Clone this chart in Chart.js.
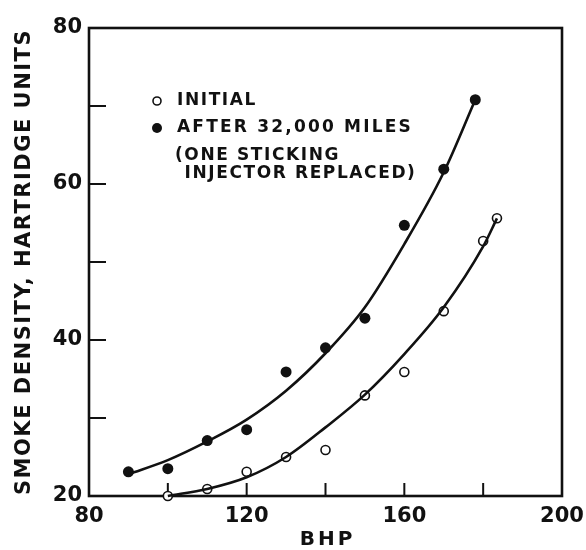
<!DOCTYPE html>
<html><head><meta charset="utf-8">
<script src="https://cdn.jsdelivr.net/npm/chart.js@4.4.1/dist/chart.umd.min.js"></script>
<style>html,body{margin:0;padding:0;background:#fff;} #wrap{width:586px;height:550px;position:relative;} canvas{display:block;}</style>
</head><body><div id="wrap"><canvas id="c" width="586" height="550" style="width:586px;height:550px"></canvas></div>
<script>
// Measured points
const afterBhp   = [90, 100, 110, 120, 130, 140, 150, 160, 170, 178];
const afterSmoke = [23.1, 23.5, 27.1, 28.5, 35.9, 39.0, 42.8, 54.7, 61.9, 70.8];
const initialBhp   = [100, 110, 120, 130, 140, 150, 160, 170, 180, 183.5];
const initialSmoke = [20.0, 20.9, 23.1, 25.0, 25.9, 32.9, 35.9, 43.7, 52.7, 55.6];
// Faired curves
const afterCurveBhp   = [90, 100, 110, 120, 130, 140, 150, 160, 170, 178];
const afterCurveSmoke = [22.8, 24.6, 27.0, 29.8, 33.5, 38.3, 44.2, 52.3, 61.5, 70.8];
const initialCurveBhp   = [100, 110, 120, 130, 140, 150, 160, 170, 180, 183.5];
const initialCurveSmoke = [20.0, 20.9, 22.4, 25.0, 28.8, 33.0, 38.2, 44.2, 52.0, 55.6];
// Axis labels
const xTickLabels = [80, 120, 160, 200];
const yTickLabels = [20, 40, 60, 80];
const xTitle = 'BHP';
const yTitle = 'SMOKE DENSITY, HARTRIDGE UNITS';
const legendInitial = 'INITIAL';
const legendAfter = 'AFTER 32,000 MILES';
const legendNote = ['(ONE STICKING', ' INJECTOR REPLACED)'];

const INK = '#111';
const FONT = '"DejaVu Sans", sans-serif';
const pts = (xs, ys) => xs.map((x, i) => ({x, y: ys[i]}));

const framePlugin = {
  id: 'frame',
  beforeDatasetsDraw(chart) {
    const {ctx, chartArea: a, scales: {x, y}} = chart;
    ctx.save();
    ctx.strokeStyle = INK;
    ctx.lineWidth = 2.6;
    ctx.strokeRect(a.left, a.top, a.right - a.left, a.bottom - a.top);
    ctx.lineWidth = 2;
    ctx.beginPath();
    x.ticks.forEach(t => {
      if (t.value <= x.min || t.value >= x.max) return;
      const px = x.getPixelForValue(t.value);
      ctx.moveTo(px, a.bottom); ctx.lineTo(px, a.bottom - 13);
    });
    y.ticks.forEach(t => {
      if (t.value <= y.min || t.value >= y.max) return;
      const py = y.getPixelForValue(t.value);
      ctx.moveTo(a.left, py); ctx.lineTo(a.left + 17, py);
    });
    ctx.stroke();
    ctx.restore();
  },
  afterDraw(chart) {
    const {ctx, chartArea: a} = chart;
    ctx.save();
    ctx.fillStyle = INK;
    ctx.strokeStyle = INK;
    ctx.textBaseline = 'middle';
    // legend
    ctx.font = 'bold 17px ' + FONT;
    ctx.letterSpacing = '1.6px';
    ctx.lineWidth = 1.6;
    ctx.beginPath(); ctx.arc(157, 101, 4, 0, Math.PI * 2); ctx.stroke();
    ctx.fillText(legendInitial, 177, 101);
    ctx.beginPath(); ctx.arc(157, 128, 5, 0, Math.PI * 2); ctx.fill();
    ctx.letterSpacing = '2.2px';
    ctx.fillText(legendAfter, 177, 128);
    ctx.letterSpacing = '1.6px';
    ctx.fillText(legendNote[0], 175, 156);
    ctx.fillText(legendNote[1], 177, 174);
    // x title
    ctx.font = 'bold 20px ' + FONT;
    ctx.letterSpacing = '3px';
    ctx.textAlign = 'center';
    ctx.fillText(xTitle, (a.left + a.right) / 2 + 2, 540);
    // y title
    ctx.font = 'bold 21px ' + FONT;
    ctx.letterSpacing = '1.5px';
    ctx.translate(25, (a.top + a.bottom) / 2);
    ctx.rotate(-Math.PI / 2);
    ctx.fillText(yTitle, 0, 0);
    ctx.restore();
  }
};

new Chart(document.getElementById('c'), {
  type: 'scatter',
  data: {
    datasets: [
      { label: 'after curve', data: pts(afterCurveBhp, afterCurveSmoke), showLine: true,
        borderColor: INK, borderWidth: 2.6, pointRadius: 0, cubicInterpolationMode: 'monotone', fill: false, clip: false },
      { label: 'initial curve', data: pts(initialCurveBhp, initialCurveSmoke), showLine: true,
        borderColor: INK, borderWidth: 2.6, pointRadius: 0, cubicInterpolationMode: 'monotone', fill: false, clip: false },
      { label: legendAfter, data: pts(afterBhp, afterSmoke), pointRadius: 5.5,
        backgroundColor: INK, borderColor: INK, borderWidth: 0, clip: false },
      { label: legendInitial, data: pts(initialBhp, initialSmoke), pointRadius: 4.5,
        backgroundColor: '#fff', borderColor: INK, borderWidth: 1.6, clip: false }
    ]
  },
  options: {
    responsive: false,
    animation: false,
    devicePixelRatio: 1,
    layout: { padding: { left: 0, right: 24, top: 28, bottom: 2 } },
    plugins: { legend: { display: false }, tooltip: { enabled: false } },
    scales: {
      x: {
        type: 'linear', min: 80, max: 200,
        afterFit(s) { s.height = 52; s.paddingLeft = 0; s.paddingRight = 0; },
        grid: { display: false, drawTicks: false },
        border: { display: false },
        ticks: { stepSize: 20, padding: 8, color: INK, font: { family: FONT, size: 21, weight: 'bold' },
          callback: v => xTickLabels.includes(v) ? String(v) : '' },
        title: { display: false }
      },
      y: {
        type: 'linear', min: 20, max: 80,
        afterFit(s) { s.width = 89; s.paddingTop = 0; s.paddingBottom = 0; },
        grid: { display: false, drawTicks: false },
        border: { display: false },
        ticks: { stepSize: 10, padding: 7, color: INK, font: { family: FONT, size: 21, weight: 'bold' },
          callback: v => yTickLabels.includes(v) ? String(v) : '' },
        title: { display: false }
      }
    }
  },
  plugins: [framePlugin]
});
</script></body></html>
